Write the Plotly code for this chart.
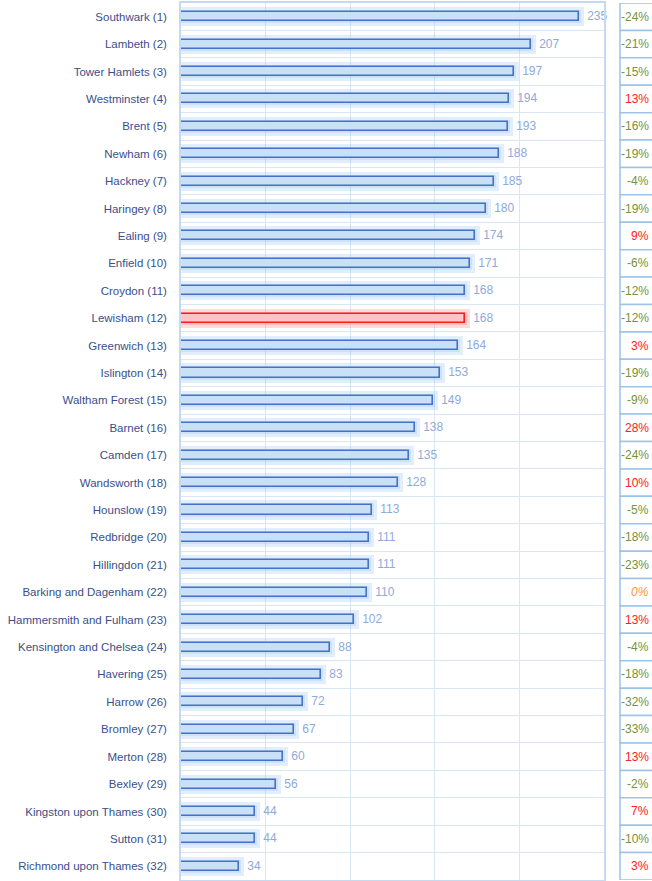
import plotly.graph_objects as go

boroughs = [
    "Southwark (1)", "Lambeth (2)", "Tower Hamlets (3)", "Westminster (4)",
    "Brent (5)", "Newham (6)", "Hackney (7)", "Haringey (8)", "Ealing (9)",
    "Enfield (10)", "Croydon (11)", "Lewisham (12)", "Greenwich (13)",
    "Islington (14)", "Waltham Forest (15)", "Barnet (16)", "Camden (17)",
    "Wandsworth (18)", "Hounslow (19)", "Redbridge (20)", "Hillingdon (21)",
    "Barking and Dagenham (22)", "Hammersmith and Fulham (23)",
    "Kensington and Chelsea (24)", "Havering (25)", "Harrow (26)",
    "Bromley (27)", "Merton (28)", "Bexley (29)", "Kingston upon Thames (30)",
    "Sutton (31)", "Richmond upon Thames (32)",
]
counts = [235, 207, 197, 194, 193, 188, 185, 180, 174, 171, 168, 168, 164,
          153, 149, 138, 135, 128, 113, 111, 111, 110, 102, 88, 83, 72, 67,
          60, 56, 44, 44, 34]
change_pct = [-24, -21, -15, 13, -16, -19, -4, -19, 9, -6, -12, -12, 3, -19,
              -9, 28, -24, 10, -5, -18, -23, 0, 13, -4, -18, -32, -33, 13,
              -2, 7, -10, 3]
highlight = "Lewisham (12)"

rows = list(range(len(boroughs)))

W, H = 652, 881
ML, MR, MT, MB = 181, 48, 3, 1
plot_w = W - ML - MR


def px_to_paper(px):
    return (px - ML) / plot_w


fill = ["#FFC3C8" if b == highlight else "#C9E0F7" for b in boroughs]
edge = ["#FF1A1A" if b == highlight else "#4472C4" for b in boroughs]
glow = ["rgba(255,110,110,0.24)" if b == highlight else "rgba(150,195,240,0.28)"
        for b in boroughs]

font = "Liberation Sans, Arial, sans-serif"

fig = go.Figure()

# soft halo behind each bar
fig.add_trace(go.Bar(
    x=counts, y=rows, orientation="h", width=0.33,
    marker=dict(color="rgba(0,0,0,0)", line=dict(color=glow, width=10)),
    hoverinfo="skip", showlegend=False,
))
fig.add_trace(go.Bar(
    x=counts, y=rows, orientation="h", width=0.33,
    marker=dict(color=glow, line=dict(color=glow, width=4)),
    hoverinfo="skip", showlegend=False,
))
# the bars themselves
fig.add_trace(go.Bar(
    x=counts, y=rows, orientation="h", width=0.33,
    marker=dict(color=fill, line=dict(color=edge, width=1.6)),
    text=[f"\u2002{v}" for v in counts], textposition="outside",
    constraintext="none", textangle=0,
    textfont=dict(family=font, size=12, color="#8EAADB"),
    cliponaxis=False, showlegend=False,
))

# change column beside the chart
shapes = []
annotations = []
x_cell0 = px_to_paper(620)
x_cell1 = px_to_paper(720)
for i, p in enumerate(change_pct):
    shapes.append(dict(
        type="rect", xref="paper", yref="y", x0=x_cell0, x1=x_cell1,
        y0=i - 0.5, y1=i + 0.5,
        line=dict(color="#9DC3E6", width=1.5), fillcolor="white", layer="below",
    ))
    if p < 0:
        col, style = "#76923C", "normal"
    elif p == 0:
        col, style = "#F79646", "italic"
    else:
        col, style = "#FF2020", "normal"
    annotations.append(dict(
        xref="paper", yref="y", x=px_to_paper(651), y=i,
        xanchor="right", yanchor="middle", showarrow=False,
        text=f"{p}%",
        font=dict(family=font, size=12, color=col, style=style),
    ))

fig.update_layout(
    width=W, height=H,
    margin=dict(l=ML, r=MR, t=MT, b=MB, autoexpand=False),
    paper_bgcolor="white", plot_bgcolor="white",
    barmode="overlay", bargap=0,
    shapes=shapes, annotations=annotations,
    xaxis=dict(
        range=[0, 250], tickvals=[0, 50, 100, 150, 200, 250],
        showticklabels=False, showgrid=True, gridcolor="#D9E7F5", gridwidth=1.2,
        zeroline=False, showline=True, linecolor="#C5DAF0", linewidth=1.5,
        mirror=True, ticks="", automargin=False,
    ),
    yaxis=dict(
        range=[len(rows) - 0.5, -0.5], tickvals=rows, ticktext=boroughs,
        showgrid=False, zeroline=False, ticks="", ticklabelstandoff=10,
        showline=True, linecolor="#C5DAF0", linewidth=1.5, mirror=True,
        automargin=False,
        tickfont=dict(family=font, size=11.5, color="#3A4F8A"),
        minor=dict(tick0=0.5, dtick=1, showgrid=True, gridcolor="#D9E7F5",
                   gridwidth=1.2, ticks=""),
    ),
)

fig.write_html("out.html")
